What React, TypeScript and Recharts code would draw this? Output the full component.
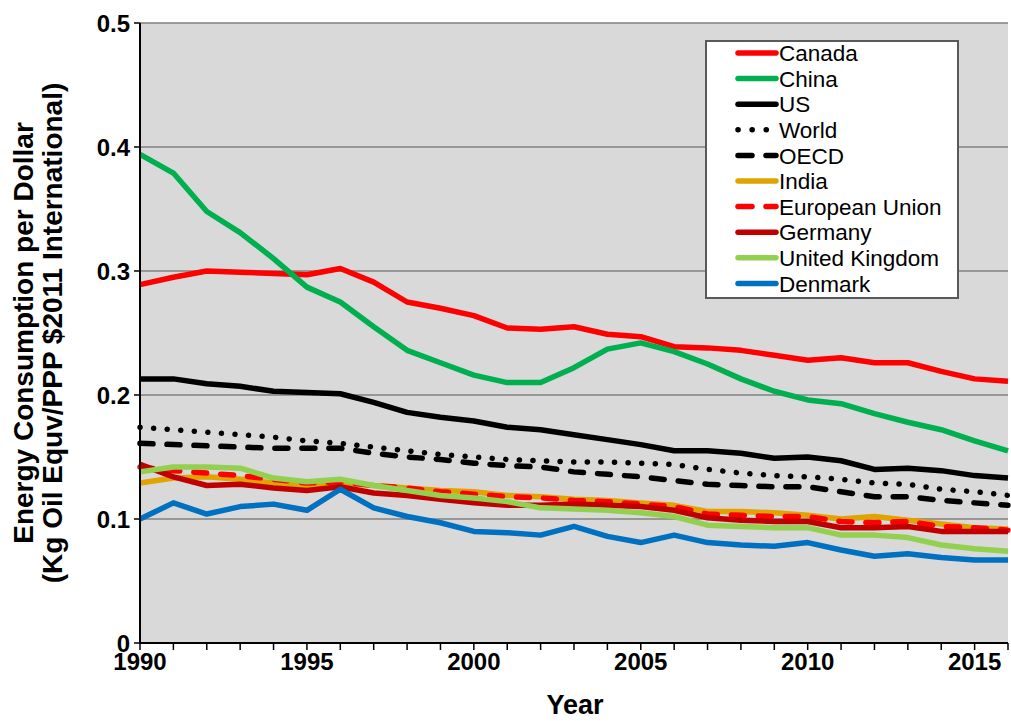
import { LineChart, Line, XAxis, YAxis, CartesianGrid } from "recharts";

const YEARS = [
  1990, 1991, 1992, 1993, 1994, 1995, 1996, 1997, 1998, 1999, 2000, 2001, 2002, 2003,
  2004, 2005, 2006, 2007, 2008, 2009, 2010, 2011, 2012, 2013, 2014, 2015, 2016,
];

const canada = [0.289, 0.295, 0.3, 0.299, 0.298, 0.297, 0.302, 0.291, 0.275, 0.27, 0.264, 0.254, 0.253, 0.255, 0.249, 0.247, 0.239, 0.238, 0.236, 0.232, 0.228, 0.23, 0.226, 0.226, 0.219, 0.213, 0.211];
const china = [0.394, 0.379, 0.348, 0.331, 0.31, 0.287, 0.275, 0.255, 0.236, 0.226, 0.216, 0.21, 0.21, 0.222, 0.237, 0.242, 0.235, 0.225, 0.213, 0.203, 0.196, 0.193, 0.185, 0.178, 0.172, 0.163, 0.155];
const us = [0.213, 0.213, 0.209, 0.207, 0.203, 0.202, 0.201, 0.194, 0.186, 0.182, 0.179, 0.174, 0.172, 0.168, 0.164, 0.16, 0.155, 0.155, 0.153, 0.149, 0.15, 0.147, 0.14, 0.141, 0.139, 0.135, 0.133];
const world = [0.174, 0.172, 0.17, 0.168, 0.166, 0.163, 0.161, 0.158, 0.155, 0.152, 0.15, 0.148, 0.147, 0.146, 0.146, 0.145, 0.144, 0.14, 0.137, 0.135, 0.134, 0.132, 0.129, 0.128, 0.124, 0.122, 0.119];
const oecd = [0.161, 0.16, 0.159, 0.158, 0.157, 0.157, 0.157, 0.153, 0.15, 0.148, 0.145, 0.143, 0.142, 0.138, 0.136, 0.134, 0.131, 0.128, 0.127, 0.126, 0.126, 0.122, 0.118, 0.118, 0.115, 0.113, 0.111];
const india = [0.129, 0.133, 0.134, 0.132, 0.129, 0.127, 0.129, 0.127, 0.125, 0.123, 0.122, 0.119, 0.118, 0.116, 0.115, 0.113, 0.111, 0.106, 0.106, 0.105, 0.103, 0.1, 0.102, 0.099, 0.096, 0.093, 0.092];
const eu = [0.142, 0.139, 0.137, 0.135, 0.132, 0.129, 0.13, 0.127, 0.125, 0.122, 0.12, 0.118, 0.117, 0.115, 0.114, 0.112, 0.11, 0.104, 0.103, 0.102, 0.102, 0.098, 0.097, 0.098, 0.094, 0.093, 0.091];
const germany = [0.144, 0.134, 0.127, 0.128, 0.125, 0.123, 0.126, 0.121, 0.119, 0.116, 0.113, 0.111, 0.111, 0.112, 0.111, 0.11, 0.107, 0.101, 0.099, 0.098, 0.098, 0.093, 0.093, 0.094, 0.09, 0.09, 0.09];
const uk = [0.138, 0.142, 0.142, 0.141, 0.133, 0.13, 0.132, 0.127, 0.123, 0.119, 0.117, 0.114, 0.109, 0.108, 0.107, 0.105, 0.102, 0.095, 0.094, 0.093, 0.093, 0.087, 0.087, 0.085, 0.079, 0.076, 0.074];
const denmark = [0.1, 0.113, 0.104, 0.11, 0.112, 0.107, 0.124, 0.109, 0.102, 0.097, 0.09, 0.089, 0.087, 0.094, 0.086, 0.081, 0.087, 0.081, 0.079, 0.078, 0.081, 0.075, 0.07, 0.072, 0.069, 0.067, 0.067];

const Y_TICKS = [0, 0.1, 0.2, 0.3, 0.4, 0.5];

const SERIES = [
  { key: "canada", name: "Canada", values: canada, color: "#ff0000", dash: undefined, legendDash: undefined },
  { key: "china", name: "China", values: china, color: "#00b050", dash: undefined, legendDash: undefined },
  { key: "us", name: "US", values: us, color: "#000000", dash: undefined, legendDash: undefined },
  { key: "world", name: "World", values: world, color: "#000000", dash: "0.1 13.5", legendDash: "0.1 14" },
  { key: "oecd", name: "OECD", values: oecd, color: "#000000", dash: "13 14", legendDash: "14 14" },
  { key: "india", name: "India", values: india, color: "#e0a300", dash: undefined, legendDash: undefined },
  { key: "eu", name: "European Union", values: eu, color: "#ff0000", dash: "13 14", legendDash: "14 14" },
  { key: "germany", name: "Germany", values: germany, color: "#c00000", dash: undefined, legendDash: undefined },
  { key: "uk", name: "United Kingdom", values: uk, color: "#92d050", dash: undefined, legendDash: undefined },
  { key: "denmark", name: "Denmark", values: denmark, color: "#0070c0", dash: undefined, legendDash: undefined },
];

const data = YEARS.map((year, i) => {
  const row: Record<string, number> = { year };
  SERIES.forEach((s) => (row[s.key] = s.values[i]));
  return row;
});

const FONT = "Arial, 'Liberation Sans', sans-serif";

const LegendBox = () => (
  <div
    style={{
      position: "absolute",
      left: 705,
      top: 40,
      width: 254,
      height: 259,
      border: "2px solid #595959",
      background: "#fff",
      boxSizing: "border-box",
    }}
  >
    <svg width={250} height={255} style={{ display: "block" }}>
      {SERIES.map((s, i) => {
        const y = 11 + i * 25.6;
        return (
          <g key={s.key}>
            <line
              x1={31}
              x2={69}
              y1={y}
              y2={y}
              stroke={s.color}
              strokeWidth={5.5}
              strokeLinecap="round"
              strokeDasharray={s.legendDash}
            />
            <text x={72} y={y} dy="0.36em" fontSize={22.5} fontFamily={FONT} fill="#000">
              {s.name}
            </text>
          </g>
        );
      })}
    </svg>
  </div>
);

const YLabel = () => (
  <g fontFamily={FONT} fontWeight="bold" fontSize={28} fill="#000">
    <text transform="translate(33,333) rotate(-90)" textAnchor="middle">
      Energy Consumption per Dollar
    </text>
    <text transform="translate(62,333) rotate(-90)" textAnchor="middle">
      (Kg Oil Equv/PPP $2011 International)
    </text>
  </g>
);

const XLabel = () => (
  <text x={575} y={714} textAnchor="middle" fontFamily={FONT} fontWeight="bold" fontSize={27} fill="#000">
    Year
  </text>
);

export default function App() {
  return (
    <div style={{ position: "absolute", left: 0, top: 0, width: 1011, height: 721, background: "#fff" }}>
      <LineChart width={1011} height={721} data={data} margin={{ top: 23, right: 3, bottom: 48, left: 0 }}>
        <CartesianGrid vertical={false} stroke="#808080" strokeWidth={1.3} fill="#d9d9d9" />
        <XAxis
          dataKey="year"
          type="number"
          domain={[1990, 2016]}
          ticks={YEARS}
          interval={0}
          tickFormatter={(v: number) => (v % 5 === 0 ? String(v) : "")}
          tickSize={7}
          tickMargin={3}
          axisLine={{ stroke: "#000", strokeWidth: 2 }}
          tickLine={{ stroke: "#000", strokeWidth: 1.5 }}
          tick={{ fill: "#000", fontSize: 24, fontWeight: "bold", fontFamily: FONT }}
          label={<XLabel />}
        />
        <YAxis
          type="number"
          domain={[0, 0.5]}
          ticks={Y_TICKS}
          interval={0}
          width={140}
          tickFormatter={(v: number) => (v === 0 ? "0" : v.toFixed(1))}
          tickSize={6}
          tickMargin={4}
          axisLine={{ stroke: "#000", strokeWidth: 2 }}
          tickLine={{ stroke: "#000", strokeWidth: 1.5 }}
          tick={{ fill: "#000", fontSize: 24, fontWeight: "bold", fontFamily: FONT }}
          label={<YLabel />}
        />
        {SERIES.map((s) => (
          <Line
            key={s.key}
            type="linear"
            dataKey={s.key}
            name={s.name}
            stroke={s.color}
            strokeWidth={5.5}
            strokeDasharray={s.dash}
            strokeLinecap={s.dash ? "round" : "butt"}
            strokeLinejoin="round"
            dot={false}
            activeDot={false}
            isAnimationActive={false}
          />
        ))}
      </LineChart>
      <LegendBox />
    </div>
  );
}
